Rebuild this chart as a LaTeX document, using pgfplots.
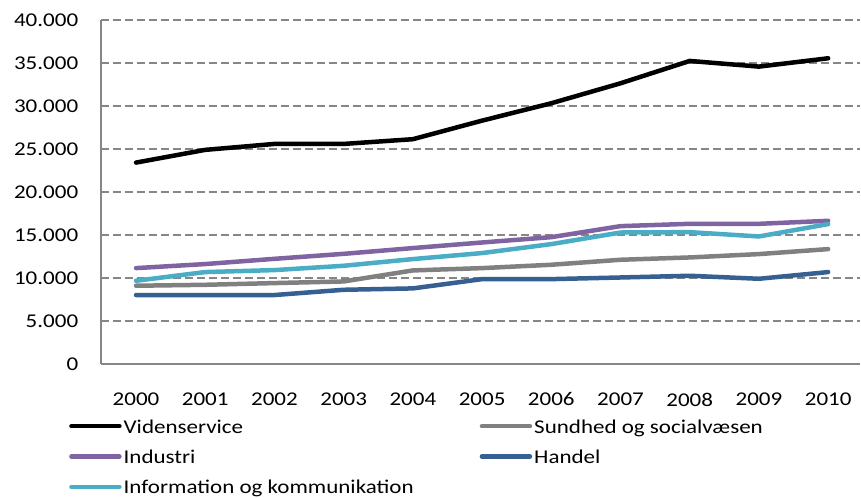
\documentclass[border=0pt]{standalone}
\usepackage{pgfplots}
\pgfplotsset{compat=1.18}
\usepackage{fontspec}
\setmainfont{Carlito}[FakeStretch=1.18]
\definecolor{gridgray}{RGB}{134,134,134}
\definecolor{cvid}{RGB}{0,0,0}
\definecolor{csund}{RGB}{128,128,128}
\definecolor{cind}{RGB}{128,100,162}
\definecolor{chand}{RGB}{55,96,146}
\definecolor{cinfo}{RGB}{75,172,198}
\begin{document}
\fontsize{19.5bp}{23bp}\selectfont
\begin{tikzpicture}
\useasboundingbox (-101bp,-134bp) rectangle (760bp,364bp);
\begin{axis}[
  at={(0,0)}, anchor=south west,
  scale only axis, width=759bp, height=344bp,
  xmin=-0.506, xmax=10.46, ymin=0, ymax=40000,
  axis lines=left,
  axis line style={-, draw=gridgray, line width=1.3bp},
  xtick={0,...,10},
  xticklabels={2000,2001,2002,2003,2004,2005,2006,2007,2008,2009,2010},
  ytick={0,5000,...,40000},
  scaled y ticks=false,
  yticklabel style={/pgf/number format/1000 sep={.},/pgf/number format/assume math mode=true},
  every x tick label/.append style={yshift=-20bp},
  every y tick label/.append style={xshift=-14bp},
  tick style={draw=none},
  ymajorgrids,
  grid style={draw=gridgray, line width=1.1bp, dash pattern=on 8bp off 4bp},
  tick label style={font=\fontsize{19.5bp}{23bp}\selectfont},
  legend columns=2,
  legend cell align=left,
  legend image code/.code={\draw[#1] (0bp,2bp) -- (48bp,2bp);},
  legend style={at={(axis description cs:0,0)}, anchor=north west,
    xshift=-32bp, yshift=-54bp, draw=none, fill=none, inner sep=0pt,
    font=\fontsize{19.5bp}{23bp}\selectfont,
    nodes={inner xsep=2bp, inner ysep=0bp, text height=15bp, text depth=5bp},
    row sep=10.3bp,
    /tikz/column 2/.style={column sep=64bp}},
  every axis plot/.append style={line width=4.5bp, line join=round, line cap=round},
]
\addplot[cvid] coordinates {(0,23420)(1,24900)(2,25590)(3,25590)(4,26140)(5,28300)(6,30320)(7,32640)(8,35240)(9,34580)(10,35550)};
\addlegendentry{Videnservice}
\addplot[csund] coordinates {(0,9100)(1,9210)(2,9410)(3,9600)(4,10880)(5,11150)(6,11540)(7,12120)(8,12390)(9,12780)(10,13360)};
\addlegendentry{Sundhed og socialvæsen}
\addplot[cind] coordinates {(0,11150)(1,11620)(2,12230)(3,12810)(4,13480)(5,14130)(6,14750)(7,16030)(8,16300)(9,16300)(10,16650)};
\addlegendentry{Industri}
\addplot[chand] coordinates {(0,8020)(1,8020)(2,8020)(3,8630)(4,8790)(5,9870)(6,9870)(7,10060)(8,10260)(9,9910)(10,10690)};
\addlegendentry{Handel}
\addplot[cinfo] coordinates {(0,9680)(1,10690)(2,10920)(3,11420)(4,12200)(5,12900)(6,13940)(7,15290)(8,15330)(9,14830)(10,16270)};
\addlegendentry{Information og kommunikation}
\end{axis}
\end{tikzpicture}
\end{document}
